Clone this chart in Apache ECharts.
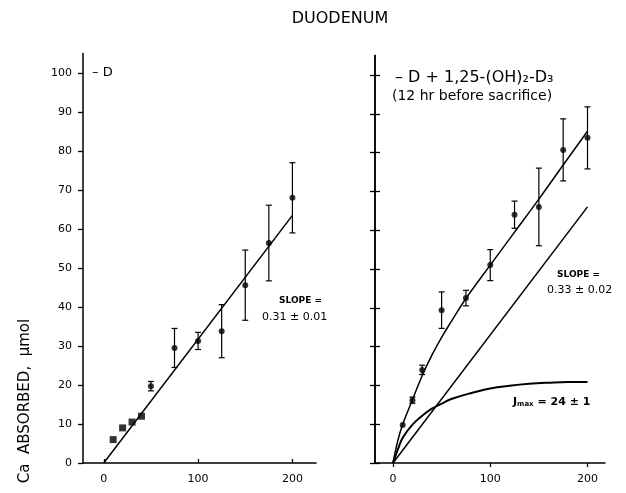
<!DOCTYPE html>
<html><head><meta charset="utf-8">
<script src="https://cdn.jsdelivr.net/npm/echarts@6/dist/echarts.min.js"></script>
<style>html,body{margin:0;padding:0;background:#fff}#c{width:626px;height:493px}</style>
</head><body><div id="c"></div>
<script>
// ---- data ----
const xTicks = [0, 100, 200];
const yTicks = [0, 10, 20, 30, 40, 50, 60, 70, 80, 90, 100];

// Left panel: -D
const leftX   = [10, 20, 30, 40, 50, 75, 100, 125, 150, 175, 200];
const leftY   = [6, 9, 10.5, 12, 19.7, 29.5, 31.3, 33.8, 45.6, 56.4, 68];
const leftErr = [0, 0, 0, 0, 1.2, 5, 2.2, 6.8, 9, 9.7, 9];
const leftSym = ['rect', 'rect', 'rect', 'rect', 'circle', 'circle', 'circle', 'circle', 'circle', 'circle', 'circle'];
const leftFitX = [0, 200];
const leftFitY = [0, 63.5];

// Right panel: -D + 1,25-(OH)2-D3
const rightX   = [10, 20, 30, 50, 75, 100, 125, 150, 175, 200];
const rightY   = [9.8, 16.2, 24, 39.4, 42.5, 51, 64, 66, 80.7, 83.8];
const rightErr = [0, 0.8, 1.2, 4.7, 2, 4, 3.5, 10, 8, 8];
const totalX = [0, 5, 10, 20, 30, 40, 50, 60, 75, 100, 125, 150, 175, 200];
const totalY = [0, 5.8, 10, 16.3, 22.5, 27.8, 32.4, 36.5, 42.4, 51, 59.5, 68, 76.8, 85.5];
const linX = [0, 200];
const linY = [0, 66];
const satX = [0, 5, 10, 20, 30, 40, 50, 60, 80, 100, 120, 140, 160, 180, 200];
const satY = [0, 3.5, 6.5, 9.9, 12.2, 14, 15.3, 16.5, 18, 19.2, 19.9, 20.4, 20.7, 20.9, 20.9];

// ---- chart ----
const FONT = 'DejaVu Sans';
const zip = (a, b) => a.map((v, i) => [v, b[i]]);
const errData = (xs, ys, es) => xs.map((x, i) => [x, ys[i] - es[i], ys[i] + es[i], es[i]]);

function xAxisFor(gi, min, max) {
  return {
    gridIndex: gi, type: 'value', min: min, max: max,
    axisLine: { show: true, onZero: false, lineStyle: { color: '#000', width: 1.5 } },
    axisTick: { show: true, customValues: xTicks, length: 4, inside: gi === 0, lineStyle: { color: '#000', width: 1.3 } },
    axisLabel: { show: true, customValues: xTicks, color: '#000', fontFamily: FONT, fontSize: 11, margin: 11 },
    splitLine: { show: false }
  };
}
function yAxisFor(gi, showLabels, inside) {
  return {
    gridIndex: gi, type: 'value', min: 0, max: 105, position: 'left',
    axisLine: { show: true, onZero: false, lineStyle: { color: '#000', width: 1.5 } },
    axisTick: { show: true, customValues: yTicks, length: 5, inside: inside, lineStyle: { color: '#000', width: 1.3 } },
    axisLabel: { show: showLabels, customValues: yTicks, color: '#000', fontFamily: FONT, fontSize: 11, margin: 11 },
    splitLine: { show: false }
  };
}

function errSeries(xi, yi, data) {
  return {
    type: 'custom', xAxisIndex: xi, yAxisIndex: yi, data: data, z: 3,
    renderItem: function (params, api) {
      const lo = api.coord([api.value(0), api.value(1)]);
      const hi = api.coord([api.value(0), api.value(2)]);
      const w = 3;
      const st = { stroke: '#000', lineWidth: api.value(3) > 0 ? 1.2 : 0 };
      return { type: 'group', children: [
        { type: 'line', shape: { x1: lo[0], y1: lo[1], x2: hi[0], y2: hi[1] }, style: st },
        { type: 'line', shape: { x1: lo[0] - w, y1: lo[1], x2: lo[0] + w, y2: lo[1] }, style: st },
        { type: 'line', shape: { x1: hi[0] - w, y1: hi[1], x2: hi[0] + w, y2: hi[1] }, style: st }
      ]};
    }
  };
}
function lineSeries(xi, yi, xs, ys, w, smooth) {
  return { type: 'line', xAxisIndex: xi, yAxisIndex: yi, data: zip(xs, ys), showSymbol: false, smooth: smooth,
    lineStyle: { color: '#000', width: w }, z: 2, silent: true };
}

const option = {
  backgroundColor: '#fff',
  animation: false,
  grid: [
    { left: 83, top: 53.5, width: 233, height: 409.5 },
    { left: 375, top: 55.6, width: 230, height: 407.4 }
  ],
  xAxis: [ xAxisFor(0, -22, 225), xAxisFor(1, -18.5, 218) ],
  yAxis: [ yAxisFor(0, true, false), yAxisFor(1, false, false), yAxisFor(1, false, true) ],
  series: [
    lineSeries(0, 0, leftFitX, leftFitY, 1.5, false),
    errSeries(0, 0, errData(leftX, leftY, leftErr)),
    { type: 'scatter', xAxisIndex: 0, yAxisIndex: 0, z: 4,
      data: leftX.map((x, i) => ({ value: [x, leftY[i]], symbol: leftSym[i], symbolSize: leftSym[i] === 'rect' ? 7 : 6 })),
      itemStyle: { color: '#000' } },
    lineSeries(1, 1, totalX, totalY, 1.5, 0.4),
    lineSeries(1, 1, linX, linY, 1.5, false),
    lineSeries(1, 1, satX, satY, 2, 0.4),
    errSeries(1, 1, errData(rightX, rightY, rightErr)),
    { type: 'scatter', xAxisIndex: 1, yAxisIndex: 1, z: 4, symbol: 'circle', symbolSize: 6,
      data: zip(rightX, rightY), itemStyle: { color: '#000' } }
  ],
  graphic: [
    { type: 'text', x: 340, y: 19, style: { text: 'DUODENUM', font: '16px ' + FONT, fill: '#000', textAlign: 'center', textVerticalAlign: 'middle' } },
    { type: 'text', x: 25, y: 401, rotation: Math.PI / 2, style: { text: 'Ca  ABSORBED,  μmol', font: '15px ' + FONT, fill: '#000', textAlign: 'center', textVerticalAlign: 'middle' } },
    { type: 'text', x: 92, y: 73, style: { text: '– D', font: '13px ' + FONT, fill: '#000', textVerticalAlign: 'middle' } },
    { type: 'text', x: 279, y: 301, style: { text: 'SLOPE =', font: 'bold 9px ' + FONT, fill: '#000', textVerticalAlign: 'middle' } },
    { type: 'text', x: 262, y: 317, style: { text: '0.31 ± 0.01', font: '11px ' + FONT, fill: '#000', textVerticalAlign: 'middle' } },
    { type: 'text', x: 395, y: 78, style: { text: '– D + 1,25-(OH)₂-D₃', font: '16px ' + FONT, fill: '#000', textVerticalAlign: 'middle' } },
    { type: 'text', x: 392, y: 96, style: { text: '(12 hr before sacrifice)', font: '14px ' + FONT, fill: '#000', textVerticalAlign: 'middle' } },
    { type: 'text', x: 557, y: 275, style: { text: 'SLOPE =', font: 'bold 9px ' + FONT, fill: '#000', textVerticalAlign: 'middle' } },
    { type: 'text', x: 547, y: 290, style: { text: '0.33 ± 0.02', font: '11px ' + FONT, fill: '#000', textVerticalAlign: 'middle' } },
    { type: 'text', x: 513, y: 402, style: {
        text: '{j|J}{s|max}{j| = 24 ± 1}', fill: '#000', textVerticalAlign: 'middle',
        rich: { j: { font: 'bold 11px ' + FONT, fill: '#000' }, s: { font: 'bold 7px ' + FONT, fill: '#000', padding: [5, 0, 0, 0] } } } }
  ]
};
echarts.init(document.getElementById('c')).setOption(option);
</script>
</body></html>
